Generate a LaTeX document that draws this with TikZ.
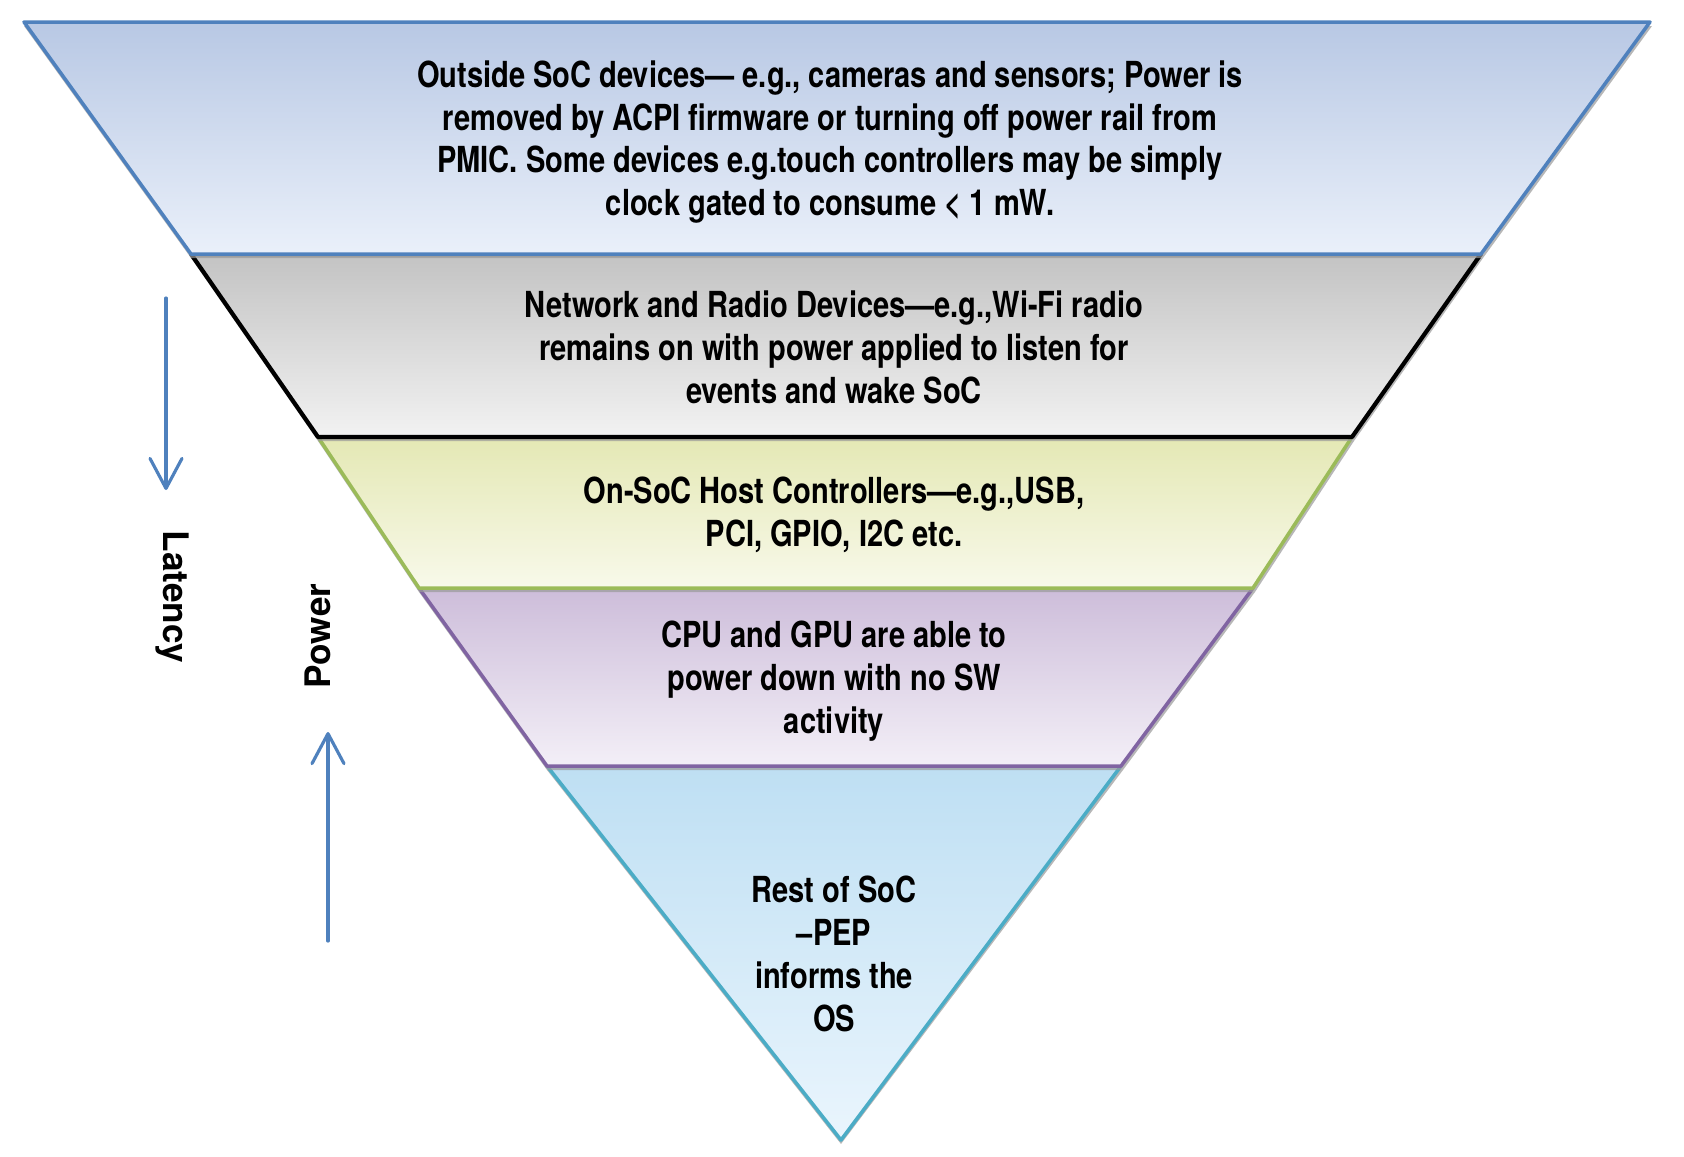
\documentclass[tikz,border=0pt]{standalone}
\usepackage{fontspec}
\setmainfont{TeX Gyre Heros}
\newfontfamily\narrowfont[FakeStretch=0.81]{TeX Gyre Heros}
\usetikzlibrary{arrows.meta}

\definecolor{arrowblue}{HTML}{4F81BD}
\definecolor{olive}{HTML}{9BBB59}
\definecolor{plum}{HTML}{8064A2}
\definecolor{aqua}{HTML}{4BACC6}

\begin{document}
\begin{tikzpicture}[x=0.01cm,y=-0.01cm,
    band/.style={line width=1pt,line join=round},
    bandshadow/.style={fill=black!40,opacity=0.7},
    bandtext/.style={align=center,font=\narrowfont\bfseries\fontsize{10.2}{12.2}\selectfont},
    sidetext/.style={font=\bfseries\fontsize{10}{12}\selectfont},
    updown/.style={draw=arrowblue,line width=0.9pt,line cap=round,
      -{Straight Barb[length=3mm,width=3.2mm,round]}}]
    \useasboundingbox (0,0) rectangle (1684,1156);

    % bands, lowest first so the upper edges lie on top
    \fill[bandshadow] (547,770) -- (1123,770) -- (841,1144) -- cycle;
    \draw[band,draw=aqua,top color={rgb,255:red,190;green,223;blue,243},bottom color={rgb,255:red,234;green,245;blue,253}]
      (547,766) -- (1121,766) -- (841,1140) -- cycle;

    \fill[bandshadow] (419,592) -- (1255,592) -- (1123,770) -- (547,770) -- cycle;
    \draw[band,draw=plum,top color={rgb,255:red,205;green,189;blue,218},bottom color={rgb,255:red,243;green,239;blue,247}]
      (419,588) -- (1253,588) -- (1121,766) -- (547,766) -- cycle;

    \fill[bandshadow] (318,441) -- (1354,441) -- (1255,592) -- (419,592) -- cycle;
    \draw[band,draw=olive,top color={rgb,255:red,228;green,232;blue,180},bottom color={rgb,255:red,248;green,249;blue,234}]
      (318,437) -- (1352,437) -- (1253,588) -- (419,588) -- cycle;

    \fill[bandshadow] (191,258) -- (1483,258) -- (1354,441) -- (318,441) -- cycle;
    \draw[band,line width=1.2pt,draw=black,top color={rgb,255:red,195;green,195;blue,195},bottom color={rgb,255:red,242;green,242;blue,242}]
      (191,254) -- (1481,254) -- (1352,437) -- (318,437) -- cycle;

    \fill[bandshadow] (24,26) -- (1652,26) -- (1483,258) -- (191,258) -- cycle;
    \draw[band,draw=arrowblue,top color={rgb,255:red,184;green,200;blue,228},bottom color={rgb,255:red,234;green,240;blue,250}]
      (24,22) -- (1650,22) -- (1481,254) -- (191,254) -- cycle;

    \node[bandtext] (outside) at (830,142) {Outside SoC devices— e.g., cameras and sensors; Power is\\
      removed by ACPI firmware or turning off power rail from\\
      PMIC. Some devices e.g.touch controllers may be simply\\
      clock gated to consume < 1 mW.};
    \node[bandtext] (radio) at (834,347) {Network and Radio Devices—e.g.,Wi-Fi radio\\
      remains on with power applied to listen for\\
      events and wake SoC};
    \node[bandtext] (hostctl) at (834,515) {On-SoC Host Controllers—e.g.,USB,\\PCI, GPIO, I2C etc.};
    \node[bandtext] (cpugpu) at (834,681) {CPU and GPU are able to\\power down with no SW\\activity};
    \node[bandtext] (restsoc) at (834,954) {Rest of SoC\\–PEP\\informs the\\OS};

    % side labels and arrows
    \node[sidetext,rotate=-90] (latency) at (172,597) {Latency};
    \node[sidetext,rotate=90] (power) at (318,636) {Power};

    \coordinate (latfrom) at (166,298);
    \coordinate (latto) at (166,490);
    \coordinate (powfrom) at (328,941);
    \coordinate (powto) at (328,732);
    \draw[updown] (latfrom) -- (latto);
    \draw[updown] (powfrom) -- (powto);
\end{tikzpicture}
\end{document}
